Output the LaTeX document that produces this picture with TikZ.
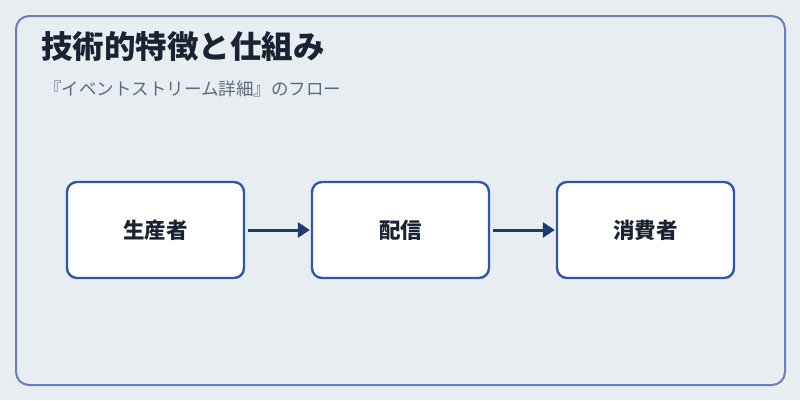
\documentclass[tikz,border=0pt]{standalone}
\usepackage{fontspec}
\newfontfamily\cjk{Noto Sans CJK JP}
\usetikzlibrary{arrows.meta}
\definecolor{pagebg}{HTML}{E8EDF2}
\definecolor{framec}{HTML}{6B80AD}
\definecolor{boxc}{HTML}{3456A0}
\definecolor{arrowc}{HTML}{1F3A6E}
\definecolor{inkc}{HTML}{1A2333}
\definecolor{subc}{HTML}{5A6B80}
\tikzset{
  stagebox/.style={draw=boxc, line width=2.4pt, fill=white, rounded corners=10pt,
    minimum width=177pt, minimum height=96pt, inner sep=0pt,
    font=\cjk\bfseries\fontsize{21.5pt}{24pt}\selectfont, text=inkc},
  flow/.style={draw=arrowc, line width=3pt, -{Triangle[length=12pt,width=15pt]}},
}
\begin{document}
\begin{tikzpicture}[x=1pt,y=-1pt]
  \fill[pagebg] (0,0) rectangle (800,400);
  \useasboundingbox (0,0) rectangle (800,400);
  \draw[framec, line width=2pt, rounded corners=13pt] (16,16) rectangle (785,385);
  \node[anchor=base west, inner sep=0pt, text=inkc,
        font=\cjk\bfseries\fontsize{31.5pt}{36pt}\selectfont] (title) at (41,58) {技術的特徴と仕組み};
  \node[anchor=base west, inner sep=0pt, text=subc,
        font=\cjk\fontsize{17.5pt}{21pt}\selectfont] (sub) at (44,95) {『イベントストリーム詳細』のフロー};
  \node[stagebox] (prod) at (155.5,230) {\raisebox{-2pt}{生産者}};
  \node[stagebox] (dist) at (400.5,230) {\raisebox{-2pt}{配信}};
  \node[stagebox] (cons) at (645.5,230) {\raisebox{-2pt}{消費者}};
  \draw[flow] ([xshift=3pt]prod.east) -- ([xshift=-1pt]dist.west);
  \draw[flow] ([xshift=3pt]dist.east) -- ([xshift=-1pt]cons.west);
\end{tikzpicture}
\end{document}
